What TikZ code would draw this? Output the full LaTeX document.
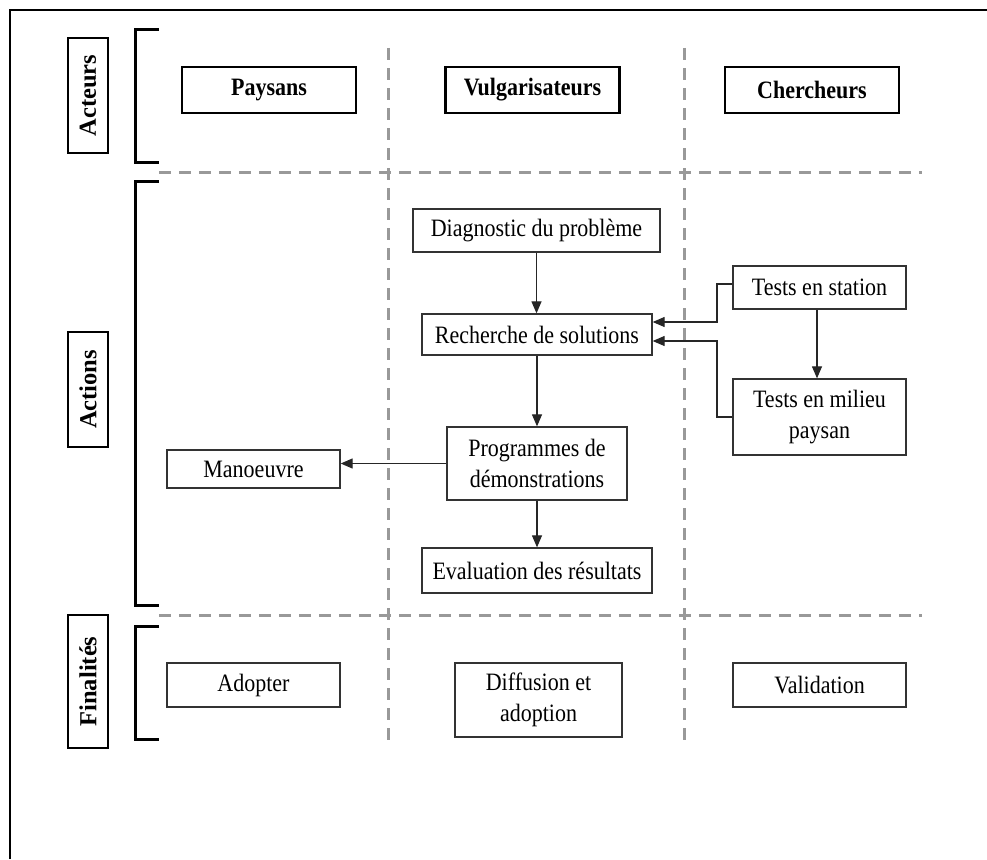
\documentclass[tikz,border=0pt]{standalone}
\usepackage{fontspec}
\setmainfont{Liberation Serif}[FakeStretch=0.88]
\newfontfamily\sidefont{Liberation Serif}
\usetikzlibrary{arrows.meta}
\definecolor{gridgray}{HTML}{999999}
\definecolor{edgegray}{HTML}{333333}
\tikzset{
  headbox/.style={draw=black, line width=2.6pt, minimum width=174pt, minimum height=46pt,
    inner sep=0pt, font=\fontsize{25}{27}\selectfont\bfseries},
  sidebox/.style={draw=black, line width=2.6pt, rotate=90, minimum height=40pt,
    inner sep=0pt, font=\sidefont\fontsize{24.5}{26}\selectfont\bfseries},
  actbox/.style={draw=edgegray, line width=1.3pt, inner sep=0pt, align=center,
    font=\fontsize{25}{31}\selectfont},
  bracket/.style={line width=3pt, line cap=butt},
  gridline/.style={draw=gridgray, line width=3pt, dash pattern=on 12pt off 8pt},
  arr/.style={draw=black!85, line width=1.2pt, -{Triangle[length=12pt,width=10pt]}}
}
\begin{document}
\begin{tikzpicture}[x=1pt, y=-1pt]
\useasboundingbox (0,0) rectangle (987,859);
% outer frame (open to the right and bottom)
\draw[line width=2pt] (10,859) -- (10,10) -- (987,10);

% lane separators
\draw[gridline] (159,172) -- (922,172);
\draw[gridline] (159,615) -- (922,615);
\draw[gridline] (388,48) -- (388,740);
\draw[gridline] (684,48) -- (684,740);

% section brackets
\draw[bracket] (159,30) -- (135,30) -- (135,162) -- (159,162);
\draw[bracket] (159,181) -- (135,181) -- (135,605) -- (159,605);
\draw[bracket] (159,626) -- (135,626) -- (135,739) -- (159,739);

% section labels
\node[sidebox, minimum width=115pt] (sacteurs) at (88,95.5) {Acteurs};
\node[sidebox, minimum width=115pt] (sactions) at (88,389.5) {Actions};
\node[sidebox, minimum width=133pt] (sfinal) at (88,681.5) {Finalités};

% actors
\node[headbox] (paysans) at (269,90) {Paysans};
\node[headbox] (vulga) at (532.5,90) {Vulgarisateurs};
\node[headbox] (cherch) at (812,90) {Chercheurs};

% actions
\node[actbox, minimum width=247pt, minimum height=43pt] (diag) at (536.5,230.5) {Diagnostic du problème};
\node[actbox, minimum width=230pt, minimum height=41pt] (rech) at (537,334.5) {Recherche de solutions};
\node[actbox, minimum width=180pt, minimum height=73pt] (prog) at (537,463.5) {Programmes de\\démonstrations};
\node[actbox, minimum width=230pt, minimum height=45pt] (eval) at (537,570.5) {Evaluation des résultats};
\node[actbox, minimum width=173pt, minimum height=38pt] (man) at (253.5,469) {Manoeuvre};
\node[actbox, minimum width=173pt, minimum height=43pt] (ts) at (819.5,287.5) {Tests en station};
\node[actbox, minimum width=173pt, minimum height=76pt] (tm) at (819.5,417) {Tests en milieu\\paysan};

% outcomes
\node[actbox, minimum width=173pt, minimum height=44pt] (adopt) at (253.5,685) {Adopter};
\node[actbox, minimum width=167pt, minimum height=74pt] (diff) at (538.5,700) {Diffusion et\\adoption};
\node[actbox, minimum width=173pt, minimum height=44pt] (valid) at (819.5,685) {Validation};

% flows
\draw[arr] (diag.south) -- (diag.south |- rech.north);
\draw[arr] (rech.south) -- (rech.south |- prog.north);
\draw[arr] (prog.south) -- (prog.south |- eval.north);
\draw[arr] (prog.west) -- (prog.west -| man.east);
\draw[arr] ([xshift=-2.5pt]ts.south) -- ([xshift=-2.5pt]ts.south |- tm.north);
\coordinate (j1) at (717,322);
\coordinate (j2) at (717,341);
\draw[arr] ([yshift=3.5pt]ts.west) -| (j1) -- (j1 -| rech.east);
\draw[arr] (tm.west) -| (j2) -- (j2 -| rech.east);
\end{tikzpicture}
\end{document}
